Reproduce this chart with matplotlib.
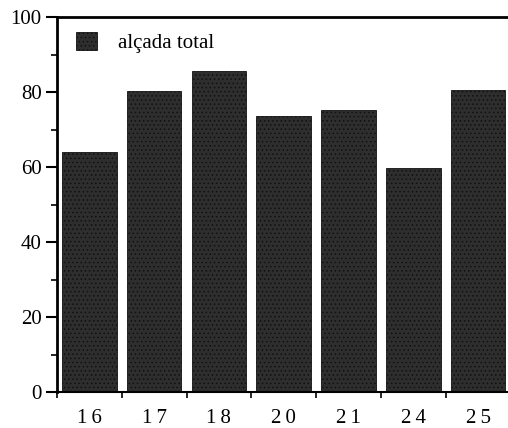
import matplotlib
matplotlib.use("Agg")
import matplotlib.pyplot as plt
from matplotlib.ticker import MultipleLocator

categories = ["16", "17", "18", "20", "21", "24", "25"]
values = [64.0, 80.3, 85.6, 73.5, 75.2, 59.8, 80.5]
series_name = "alçada total"

plt.rcParams['font.family'] = ['Liberation Serif', 'DejaVu Serif']
plt.rcParams['hatch.color'] = '#8a8a8a'
plt.rcParams['hatch.linewidth'] = 0.6

fig = plt.figure(figsize=(5.08, 4.28), dpi=100)
ax = fig.add_axes([0.112, 0.084, 0.893, 0.876])

x = list(range(len(categories)))
ax.bar(x, values, width=0.84, color='#2e2e2e', edgecolor='#111111',
       linewidth=0.6, hatch='....', label=series_name)

ax.set_xlim(-0.5, len(categories) - 0.5)
ax.set_ylim(0, 100)

ax.spines['right'].set_visible(False)
ax.spines['top'].set_linewidth(2.0)
ax.spines['left'].set_linewidth(2.0)
ax.spines['bottom'].set_linewidth(1.5)

ax.yaxis.set_major_locator(MultipleLocator(20))
ax.yaxis.set_minor_locator(MultipleLocator(10))
ax.tick_params(axis='y', which='major', direction='out', length=8, width=1.5,
               labelsize=15, pad=3)
ax.tick_params(axis='y', which='minor', direction='out', length=4, width=1.2)

ax.set_xticks(x)
ax.set_xticklabels(['\u2009'.join(c) for c in categories])
ax.tick_params(axis='x', which='major', length=0, labelsize=15, pad=12)
ax.set_xticks([i - 0.5 for i in range(len(categories) + 1)], minor=True)
ax.tick_params(axis='x', which='minor', direction='out', length=4, width=1.2)

leg = ax.legend(loc='upper left', frameon=False, fontsize=15,
                handlelength=1.0, handleheight=1.0, handletextpad=1.0,
                bbox_to_anchor=(0.01, 1.0), borderaxespad=0.3)

fig.savefig("out.png", dpi=100)
